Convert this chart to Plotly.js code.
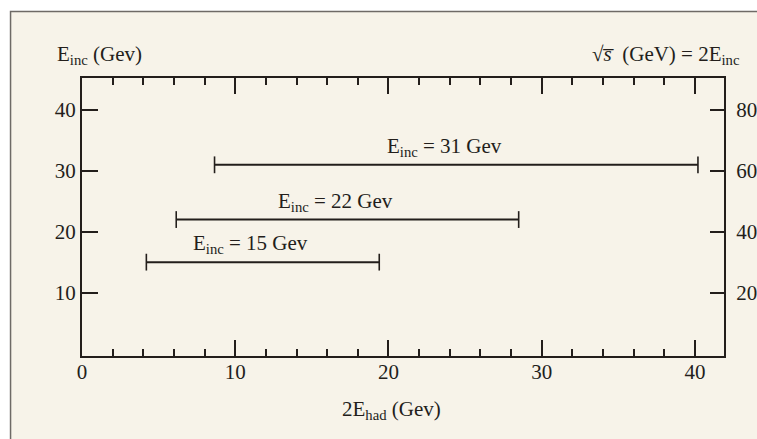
<!DOCTYPE html>
<html>
<head>
<meta charset="utf-8">
<script src="https://cdn.plot.ly/plotly-3.0.1.min.js"></script>
<style>html,body{margin:0;padding:0;background:#fff;}#chart{width:757px;height:439px;}</style>
</head>
<body>
<div id="chart"></div>
<script>
// ---- data ----
const incEnergies = [15, 22, 31];          // E_inc (GeV), y value of each range
const hadStart = [4.2, 6.15, 8.65];       // 2E_had range start (GeV)
const hadEnd = [19.4, 28.5, 40.2];        // 2E_had range end (GeV)
const xTickVals = [0, 10, 20, 30, 40];
const yTickVals = [10, 20, 30, 40];
const y2TickVals = [20, 40, 60, 80];

const ink = '#231e1b';
const cream = '#f7f3e9';
const font = {family: '"Liberation Serif", "Times New Roman", serif', size: 21, color: ink};

const traces = incEnergies.map((e, i) => ({
  type: 'scatter',
  mode: 'lines+markers',
  x: [hadStart[i], hadEnd[i]],
  y: [e, e],
  line: {color: ink, width: 2},
  marker: {symbol: 'line-ns', size: 12, line: {color: ink, width: 1.6}},
  showlegend: false,
  hoverinfo: 'skip'
}));
traces.push({type: 'scatter', mode: 'none', x: [null], y: [null], yaxis: 'y2', showlegend: false, hoverinfo: 'skip'});

const annotations = incEnergies.map((e, i) => ({
  xref: 'x', yref: 'y',
  x: (hadStart[i] + hadEnd[i]) / 2, y: e,
  xshift: -12, yshift: 18,
  xanchor: 'center', yanchor: 'middle',
  text: 'E<sub>inc</sub> = ' + e + ' Gev',
  showarrow: false, font: font
}));
annotations.push(
  {xref: 'paper', yref: 'paper', x: -0.0427, y: 1.083, xanchor: 'left', yanchor: 'middle',
   text: 'E<sub>inc</sub> (Gev)', showarrow: false, font: font},
  {xref: 'paper', yref: 'paper', x: 1.028, y: 1.083, xanchor: 'right', yanchor: 'middle',
   text: '√<i>s̅</i>  (GeV) = 2E<sub>inc</sub>', showarrow: false, font: font},
  {xref: 'paper', yref: 'paper', x: 0.4826, y: -0.194, xanchor: 'center', yanchor: 'middle',
   text: '2E<sub>had</sub> (Gev)', showarrow: false, font: font}
);

const layout = {
  width: 757, height: 439,
  margin: {l: 82, r: 33, t: 78, b: 83},
  paper_bgcolor: '#ffffff',
  plot_bgcolor: 'rgba(0,0,0,0)',
  font: font,
  showlegend: false,
  xaxis: {
    range: [0, 41.9], tickvals: xTickVals, ticks: 'inside', ticklen: 16, tickwidth: 2, tickcolor: ink,
    minor: {dtick: 2, tick0: 0, ticks: 'inside', ticklen: 7, tickwidth: 1.6, tickcolor: ink, showgrid: false},
    showline: true, linecolor: ink, linewidth: 2, mirror: 'ticks',
    showgrid: false, zeroline: false, tickfont: font, fixedrange: true, ticklabelstandoff: -4
  },
  yaxis: {
    range: [-0.43, 45.27], tickvals: yTickVals, ticks: 'inside', ticklen: 16, tickwidth: 2, tickcolor: ink,
    showline: true, linecolor: ink, linewidth: 2, mirror: false,
    showgrid: false, zeroline: false, tickfont: font, fixedrange: true
  },
  yaxis2: {
    overlaying: 'y', side: 'right',
    range: [-0.86, 90.54], tickvals: y2TickVals, ticks: 'inside', ticklen: 14, tickwidth: 2, tickcolor: ink,
    showline: true, linecolor: ink, linewidth: 2,
    showgrid: false, zeroline: false, tickfont: font, fixedrange: true, ticklabelstandoff: 6
  },
  shapes: [{
    type: 'rect', xref: 'paper', yref: 'paper', layer: 'below',
    x0: -0.1113, x1: 1.3, y0: -0.6, y1: 1.239,
    fillcolor: cream, line: {color: '#6e6a66', width: 1.5}
  }],
  annotations: annotations
};

Plotly.newPlot('chart', traces, layout, {displayModeBar: false});
</script>
</body>
</html>
